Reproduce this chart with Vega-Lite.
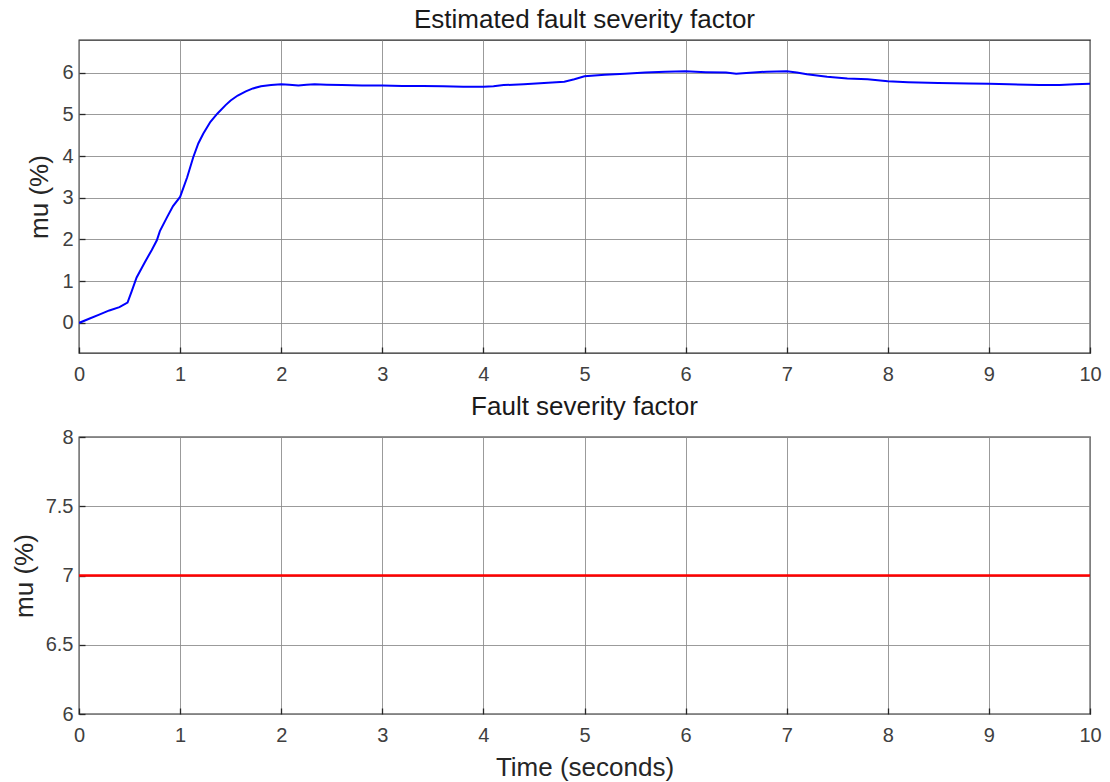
{
  "$schema": "https://vega.github.io/schema/vega-lite/v6.json",
  "padding": {"left": 10, "top": 6, "right": 5, "bottom": 5},
  "background": "white",
  "spacing": 84,
  "bounds": "flush",
  "config": {
    "font": "Liberation Sans",
    "view": {"stroke": "#262626", "strokeWidth": 1.3},
    "axis": {
      "grid": true, "gridColor": "#8a8a8a", "gridWidth": 1, "gridOpacity": 0.85,
      "domain": false, "ticks": true, "tickSize": -6, "tickColor": "#262626", "tickWidth": 1.3,
      "labelFlush": false,
      "labelFont": "Liberation Sans", "labelFontSize": 20, "labelColor": "#404040",
      "titleFont": "Liberation Sans", "titleFontSize": 26, "titleFontWeight": "normal", "titleColor": "#262626"
    },
    "title": {"font": "Liberation Sans", "fontSize": 26, "fontWeight": "normal", "color": "#1a1a1a", "offset": 7}
  },
  "datasets": {
    "est": [
      {"t": 0, "mu": 0}, {"t": 0.1, "mu": 0.1}, {"t": 0.2, "mu": 0.2}, {"t": 0.3, "mu": 0.3}, {"t": 0.4, "mu": 0.38},
      {"t": 0.48, "mu": 0.49}, {"t": 0.52, "mu": 0.75}, {"t": 0.57, "mu": 1.09}, {"t": 0.65, "mu": 1.45}, {"t": 0.72, "mu": 1.75},
      {"t": 0.77, "mu": 1.98}, {"t": 0.8, "mu": 2.2}, {"t": 0.87, "mu": 2.53}, {"t": 0.93, "mu": 2.8}, {"t": 1.0, "mu": 3.02},
      {"t": 1.07, "mu": 3.49}, {"t": 1.13, "mu": 3.97}, {"t": 1.18, "mu": 4.3}, {"t": 1.23, "mu": 4.54}, {"t": 1.3, "mu": 4.82},
      {"t": 1.37, "mu": 5.02}, {"t": 1.45, "mu": 5.22}, {"t": 1.5, "mu": 5.33}, {"t": 1.57, "mu": 5.45}, {"t": 1.65, "mu": 5.55},
      {"t": 1.72, "mu": 5.62}, {"t": 1.8, "mu": 5.67}, {"t": 1.9, "mu": 5.7}, {"t": 2.0, "mu": 5.72}, {"t": 2.08, "mu": 5.71},
      {"t": 2.17, "mu": 5.69}, {"t": 2.25, "mu": 5.71}, {"t": 2.33, "mu": 5.72}, {"t": 2.45, "mu": 5.71}, {"t": 2.6, "mu": 5.7},
      {"t": 2.8, "mu": 5.69}, {"t": 3.0, "mu": 5.69}, {"t": 3.2, "mu": 5.68}, {"t": 3.4, "mu": 5.68}, {"t": 3.6, "mu": 5.67},
      {"t": 3.8, "mu": 5.66}, {"t": 4.0, "mu": 5.66}, {"t": 4.1, "mu": 5.67}, {"t": 4.2, "mu": 5.7}, {"t": 4.4, "mu": 5.72},
      {"t": 4.6, "mu": 5.75}, {"t": 4.8, "mu": 5.78}, {"t": 4.9, "mu": 5.84}, {"t": 5.0, "mu": 5.91}, {"t": 5.2, "mu": 5.95},
      {"t": 5.4, "mu": 5.97}, {"t": 5.6, "mu": 6.0}, {"t": 5.8, "mu": 6.02}, {"t": 6.0, "mu": 6.03}, {"t": 6.2, "mu": 6.01},
      {"t": 6.4, "mu": 6.0}, {"t": 6.5, "mu": 5.97}, {"t": 6.6, "mu": 5.99}, {"t": 6.8, "mu": 6.02}, {"t": 7.0, "mu": 6.03},
      {"t": 7.1, "mu": 6.0}, {"t": 7.2, "mu": 5.96}, {"t": 7.4, "mu": 5.9}, {"t": 7.6, "mu": 5.86}, {"t": 7.8, "mu": 5.84},
      {"t": 8.0, "mu": 5.79}, {"t": 8.2, "mu": 5.77}, {"t": 8.5, "mu": 5.75}, {"t": 8.8, "mu": 5.74}, {"t": 9.0, "mu": 5.73},
      {"t": 9.2, "mu": 5.72}, {"t": 9.5, "mu": 5.7}, {"t": 9.7, "mu": 5.7}, {"t": 9.85, "mu": 5.72}, {"t": 10, "mu": 5.73}
    ],
    "actual": [
      {"t": 0, "mu": 7}, {"t": 10, "mu": 7}
    ]
  },
  "vconcat": [
    {
      "width": 1011,
      "height": 313,
      "title": {"text": "Estimated fault severity factor"},
      "data": {"name": "est"},
      "mark": {"type": "line", "color": "#0000ff", "strokeWidth": 2, "clip": true},
      "encoding": {
        "x": {"field": "t", "type": "quantitative", "scale": {"domain": [0, 10], "nice": false},
              "axis": {"values": [0,1,2,3,4,5,6,7,8,9,10], "title": null, "labelPadding": 17}},
        "y": {"field": "mu", "type": "quantitative", "scale": {"domain": [-0.72, 6.78], "nice": false, "zero": false},
              "axis": {"values": [0,1,2,3,4,5,6], "title": "mu (%)", "labelPadding": 12, "titlePadding": 9}}
      }
    },
    {
      "width": 1011,
      "height": 277,
      "title": {"text": "Fault severity factor"},
      "data": {"name": "actual"},
      "mark": {"type": "line", "color": "#ff0000", "strokeWidth": 2.5},
      "encoding": {
        "x": {"field": "t", "type": "quantitative", "scale": {"domain": [0, 10], "nice": false},
              "axis": {"values": [0,1,2,3,4,5,6,7,8,9,10], "title": "Time (seconds)", "labelPadding": 17, "titlePadding": 9}},
        "y": {"field": "mu", "type": "quantitative", "scale": {"domain": [6, 8], "nice": false, "zero": false},
              "axis": {"values": [6, 6.5, 7, 7.5, 8], "format": "~g", "title": "mu (%)", "labelPadding": 12, "titlePadding": 8}}
      }
    }
  ]
}
